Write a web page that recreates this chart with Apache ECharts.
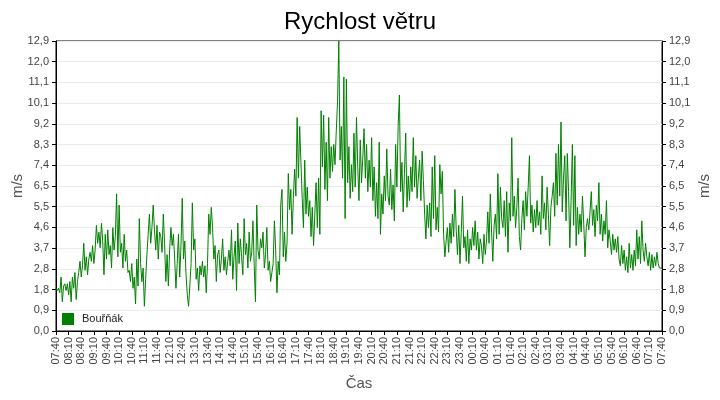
<!DOCTYPE html>
<html><head><meta charset="utf-8">
<script src="https://cdn.jsdelivr.net/npm/echarts@6/dist/echarts.min.js"></script>
<style>html,body{margin:0;padding:0;background:#fff}#c{width:720px;height:400px}</style>
</head><body><div id="c"></div>
<script>
const chartTitle = 'Rychlost větru';
const seriesName = 'Bouřňák';
const startMinutes = 7 * 60 + 40;   // 07:40
const stepMinutes = 3;
const tickLabels = ['07:40','08:10','08:40','09:10','09:40','10:10','10:40','11:10','11:40','12:10','12:40','13:10','13:40','14:10','14:40','15:10','15:40','16:10','16:40','17:10','17:40','18:10','18:40','19:10','19:40','20:10','20:40','21:10','21:40','22:10','22:40','23:10','23:40','00:10','00:40','01:10','01:40','02:10','02:40','03:10','03:40','04:10','04:40','05:10','05:40','06:10','06:40','07:10','07:40'];

const speedsA = [1.9,1.8,1.9,1.7,2.4,1.3,2.0,2.1,1.8, 2.1,1.6,2.2,1.3,2.4,1.9,2.6,1.4,2.2, 2.6,3.1,2.4,2.9, 3.9,2.7,3.3,2.5,3.2, 3.5,3.1,3.8,3.0,3.6, 4.7,3.9,4.4,3.7,4.8,4.0, 2.5,4.3,3.2,4.5,3.4, 3.8,2.8,4.6,3.6,4.2, 6.1,3.3,5.6,3.5, 3.9,2.8,4.3,3.1,3.6,2.6, 2.7,2.2,3.0,1.9,2.4, 1.2,3.2,2.0,5.0, 3.0,2.2,2.8,1.1,2.3,3.4, 4.3,5.2,3.9,4.6,5.6, 4.5,3.6,4.7,3.2,4.4];
const speedsB = [4.2,3.5,5.2,3.9, 2.2,3.4,2.0,3.6, 4.6,3.8,4.3,3.2, 1.9,3.0,4.3,2.4,3.8, 5.9,3.2,4.0, 2.5,1.6,1.1,2.0, 3.0,5.7,3.6,4.1, 2.3,2.8,1.8,2.9,2.5,3.1,2.4,2.9,1.7,3.0, 5.2,4.3,5.5,4.6,3.2, 3.8,2.2,3.4,3.6, 2.6,3.2,4.1,2.7,3.3,2.5,3.1,3.6,2.9,4.5,2.3, 3.3,4.0,1.8,4.8,3.0,4.1,3.3,2.5, 5.0,3.4,3.9,2.8,4.4,3.1,3.5, 4.9,2.9,1.3,5.6,3.6, 3.2,4.1,3.7,4.4,2.8];
const speedsC = [3.4,4.6,2.7,3.1,2.2,2.6, 3.0,4.9,3.6, 1.7,3.1,2.5, 5.6,6.3,3.3, 4.4,3.1,3.9, 7.0,5.4,6.3,4.3,5.9, 7.2,6.0, 9.5,6.8,9.1,7.5, 5.9,4.6,7.6,5.2, 6.4,5.1,5.8,4.2,5.5, 3.8,5.2,6.6,4.6, 6.8,4.3,9.8,7.3, 9.6,6.3,8.4,5.8, 9.5,6.8,8.2,7.1, 8.3,7.4,8.9,10.2, 12.9,7.6,9.1, 6.8,11.3,5.0,11.2, 6.6,8.2,5.9,7.4, 6.2,8.8,6.4,9.5, 7.3,5.8,8.5,6.6,7.7,9.0, 6.8,8.3,6.2,7.6];
const speedsD = [6.4,8.6,5.8,7.3, 5.1,6.6,5.0,8.4, 4.3,6.1,5.2, 6.9,5.8,8.1,6.0, 5.6,7.2,5.4,6.5,4.9, 8.3,6.4,9.1, 10.5,6.2,7.5, 5.3,7.0,8.8,5.5,6.9, 5.8,7.3,6.2,8.6, 6.4,7.8,5.9,6.8, 7.6,5.8,8.0,6.7, 5.2,4.1,5.6,4.6, 5.7,4.2,7.3,5.0, 7.8,4.5,5.5, 4.4,7.4,6.1,7.1, 4.3,3.3,4.0,4.6,3.5, 4.8,3.9,5.2,4.2,6.3, 4.5,3.4,4.7,3.0,4.4, 6.0,3.7,4.2,3.1,4.5, 3.0,4.1,3.6,4.6,3.8];
const speedsE = [4.9,3.6,4.4,3.2,4.1, 3.8,3.0,4.3,3.4,4.0, 5.3,3.9,6.1,4.4, 3.1,4.7,5.2,4.1, 7.0,4.3,6.4,5.0, 4.6,5.8,4.2,6.2,3.5, 5.7,4.9,8.6, 5.1,6.0,4.6,5.5,6.8, 4.2,3.6,5.0, 5.8,4.5,6.2,5.1,6.4, 7.8,4.8,5.6,4.4, 5.4,4.6,5.8,4.7, 5.3,4.3,6.9,5.0, 5.7,4.5,6.4,5.2, 3.8,5.5,6.0, 6.6,5.1,7.9,5.6, 8.3,6.0,9.3,5.3, 6.8,7.8,4.9,7.9, 6.2,3.7,5.8,8.3, 4.7,7.8,3.8,5.5,4.3];
const speedsF = [5.2,4.4,6.0,4.8, 3.3,4.6,5.0, 4.5,5.3,6.2,4.7, 5.4,4.2,5.6,4.9, 6.6,4.3,5.2, 4.0,4.9,4.3,5.8, 3.7,4.5,4.0,3.4,4.3, 3.6,4.1,3.5,4.2,3.2, 2.9,3.8,3.0,3.6,2.7,3.3,2.6, 3.9,2.8,3.4,2.7,3.6,2.9,4.5, 3.2,4.2,3.0,4.9, 3.6,3.1,3.9,3.3, 2.9,3.5,2.7,3.4,2.8, 3.3,2.9,3.5,3.0, 2.8,2.8,2.8];

const speeds = [].concat(speedsA, speedsB, speedsC, speedsD, speedsE, speedsF);
const pad = n => (n < 10 ? '0' : '') + n;
const categories = speeds.map((_, i) => {
  const m = (startMinutes + i * stepMinutes) % 1440;
  return pad(Math.floor(m / 60)) + ':' + pad(m % 60);
});
const labelEvery = 30 / stepMinutes;

const FONT = 'Liberation Sans';
const yFmt = v => v.toFixed(1).replace('.', ',');
const yBase = {
  type: 'value', min: 0, max: 12.9, interval: 12.9 / 14,
  name: 'm/s', nameLocation: 'middle', nameRotate: 90, nameMoveOverlap: false,
  nameTextStyle: { fontFamily: FONT, fontSize: 15, color: '#555' },
  axisLine: { show: true, lineStyle: { color: '#000', width: 1 } },
  axisTick: { show: true, length: 4, lineStyle: { color: '#000' } },
  axisLabel: { formatter: yFmt, fontFamily: FONT, fontSize: 11, color: '#444', margin: 7, showMaxLabel: true, showMinLabel: true }
};

const chart = echarts.init(document.getElementById('c'), null, { renderer: 'canvas' });
chart.setOption({
  animation: false,
  backgroundColor: '#fff',
  title: { text: chartTitle, left: 'center', top: 5,
    textStyle: { fontFamily: FONT, fontSize: 24, fontWeight: 'normal', color: '#000' } },
  grid: { left: 56, right: 58, top: 41, bottom: 69, show: true, borderColor: '#000', borderWidth: 1,
    backgroundColor: 'transparent', containLabel: false, outerBoundsMode: 'none' },
  legend: { left: 62, top: 313, padding: 0, data: [{ name: seriesName, icon: 'rect' }], itemWidth: 12, itemHeight: 12, itemGap: 5,
    textStyle: { fontFamily: FONT, fontSize: 11, color: '#222', padding: [0, 0, 0, 3] } },
  xAxis: {
    type: 'category', data: categories, boundaryGap: false,
    name: 'Čas', nameLocation: 'middle', nameGap: 45,
    nameTextStyle: { fontFamily: FONT, fontSize: 15, color: '#555' },
    axisLine: { lineStyle: { color: '#000', width: 1 } },
    axisTick: { length: 4, interval: i => i % labelEvery === 0, lineStyle: { color: '#000' } },
    axisLabel: { rotate: 90, interval: i => i % labelEvery === 0,
      formatter: (v, i) => tickLabels[Math.round(i / labelEvery)],
      fontFamily: FONT, fontSize: 11, color: '#444', margin: 6 },
    splitLine: { show: false }
  },
  yAxis: [
    Object.assign({}, yBase, { position: 'left', nameGap: 31,
      splitLine: { show: true, lineStyle: { color: '#ebebeb', width: 1 } } }),
    Object.assign({}, yBase, { position: 'right', nameGap: 35, splitLine: { show: false } })
  ],
  series: [{
    name: seriesName, type: 'line', data: speeds, yAxisIndex: 0,
    symbol: 'none', showSymbol: false,
    lineStyle: { color: '#008000', width: 1 }, itemStyle: { color: '#008000' }
  }]
});
</script></body></html>
